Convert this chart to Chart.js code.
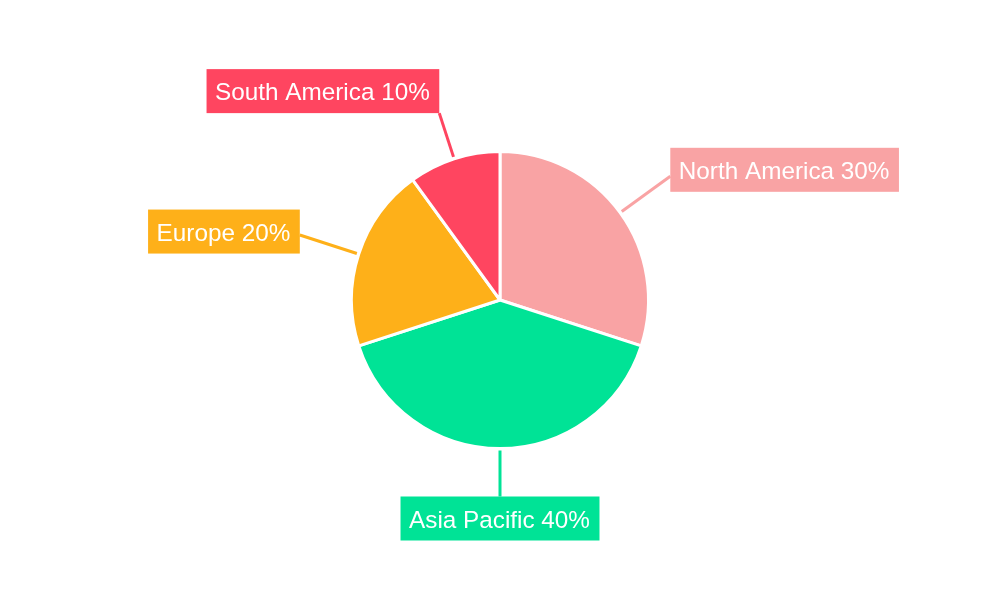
<!DOCTYPE html>
<html>
<head>
<meta charset="utf-8">
<style>
  html, body { margin: 0; padding: 0; background: #ffffff; }
  #wrap { width: 1000px; height: 600px; position: relative; }
</style>
<script src="https://cdn.jsdelivr.net/npm/chart.js@4.4.1/dist/chart.umd.min.js"></script>
</head>
<body>
<div id="wrap"><canvas id="c" width="1000" height="600"></canvas></div>
<script>
const regions = ["North America", "Asia Pacific", "Europe", "South America"];
const shares = [30, 40, 20, 10];
const sliceColors = ["#F9A3A4", "#00E396", "#FEB019", "#FF4560"];

const calloutPlugin = {
  id: 'callouts',
  afterDatasetsDraw(chart) {
    const ctx = chart.ctx;
    const meta = chart.getDatasetMeta(0);
    ctx.save();
    ctx.font = '24.3px "Liberation Sans", Arial, sans-serif';
    const items = [];
    meta.data.forEach((arc, i) => {
      const p = arc.getProps(['x', 'y', 'startAngle', 'endAngle', 'outerRadius'], true);
      const mid = (p.startAngle + p.endAngle) / 2;
      const vx = Math.cos(mid), vy = Math.sin(mid);
      const r = p.outerRadius;
      const R = r + (Math.abs(vx) > 0.7 ? 62 : 48);
      const px = p.x + vx * R, py = p.y + vy * R;
      const text = regions[i] + ' ' + shares[i] + '%';
      const tw = ctx.measureText(text).width;
      const w = tw + 18, h = 44;
      let left, top;
      if (vx > 0.2) left = px; else if (vx < -0.2) left = px - w; else left = px - w / 2;
      if (vy > 0.8) top = py; else if (vy < -0.8) top = py - h; else top = py - h / 2 + 11 * vy;
      items.push({ i, vx, vy, r, x: p.x, y: p.y, R, left, top, w, h, text });
    });
    items.forEach(it => {
      ctx.beginPath();
      ctx.strokeStyle = sliceColors[it.i];
      ctx.lineWidth = 3;
      ctx.moveTo(it.x + it.vx * (it.r + 2), it.y + it.vy * (it.r + 2));
      ctx.lineTo(it.x + it.vx * it.R, it.y + it.vy * it.R);
      ctx.stroke();
    });
    items.forEach(it => {
      ctx.fillStyle = sliceColors[it.i];
      ctx.fillRect(it.left, it.top, it.w, it.h);
      ctx.fillStyle = '#ffffff';
      ctx.textAlign = 'left';
      ctx.textBaseline = 'middle';
      ctx.fillText(it.text, it.left + 8.5, it.top + it.h / 2 + 2.5);
    });
    ctx.restore();
  }
};

new Chart(document.getElementById('c'), {
  type: 'pie',
  data: {
    labels: regions,
    datasets: [{
      data: shares,
      backgroundColor: sliceColors,
      borderColor: '#ffffff',
      borderWidth: 3
    }]
  },
  options: {
    responsive: false,
    animation: false,
    layout: { padding: { top: 150, bottom: 150, left: 0, right: 0 } },
    plugins: {
      legend: { display: false },
      tooltip: { enabled: false }
    }
  },
  plugins: [calloutPlugin]
});
</script>
</body>
</html>
